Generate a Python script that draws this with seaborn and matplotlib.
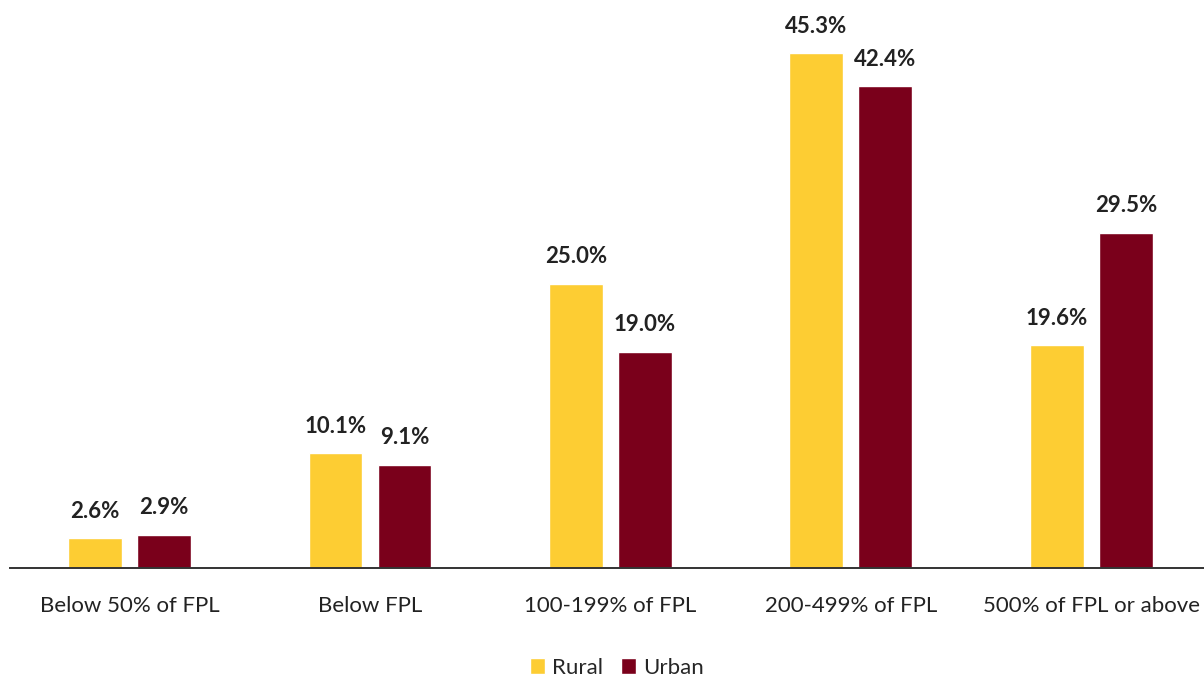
import matplotlib
matplotlib.use("Agg")

import matplotlib.pyplot as plt
import pandas as pd
import seaborn as sns

# ==========================================================
# Data
# ==========================================================

categories = [
    "Below 50% of FPL",
    "Below FPL",
    "100-199% of FPL",
    "200-499% of FPL",
    "500% of FPL or above",
]
rural = [2.6, 10.1, 25.0, 45.3, 19.6]
urban = [2.9, 9.1, 19.0, 42.4, 29.5]
series = ["Rural", "Urban"]
colors = {"Rural": "#FDCD33", "Urban": "#7A001B"}

# ==========================================================
# Style
# ==========================================================

sns.set_theme(style="white")
plt.rcParams["font.family"] = ["Lato", "DejaVu Sans"]

df = pd.DataFrame({
    "category": categories * 2,
    "group": ["Rural"] * len(rural) + ["Urban"] * len(urban),
    "value": rural + urban,
})

# ==========================================================
# Plot
# ==========================================================

fig = plt.figure(figsize=(12.04, 6.79), dpi=100)
ax = fig.add_axes([0.0083, 0.1635, 0.9917, 0.8365])

sns.barplot(
    data=df,
    x="category",
    y="value",
    hue="group",
    hue_order=series,
    order=categories,
    palette=colors,
    width=0.574,
    gap=0.218,
    saturation=1,
    ax=ax,
)

for container in ax.containers:
    ax.bar_label(
        container,
        labels=[f"{v:.1f}%" for v in container.datavalues],
        padding=12,
        fontsize=16,
        fontweight="bold",
        color="#222222",
    )

ax.set_ylim(0, 50)
ax.set_xlim(-0.497, 4.468)
ax.set_xlabel("")
ax.set_ylabel("")
ax.set_yticks([])

for side in ["top", "right", "left"]:
    ax.spines[side].set_visible(False)
ax.spines["bottom"].set_color("#333333")
ax.spines["bottom"].set_linewidth(1.4)

ax.tick_params(axis="x", length=0, pad=20, labelsize=16, labelcolor="#222222")

ax.legend(
    loc="center",
    bbox_to_anchor=(0.508, -0.176),
    ncol=2,
    frameon=False,
    fontsize=16,
    handlelength=0.7,
    handleheight=0.7,
    handletextpad=0.3,
    columnspacing=0.8,
)

fig.savefig("out.png", dpi=100)
